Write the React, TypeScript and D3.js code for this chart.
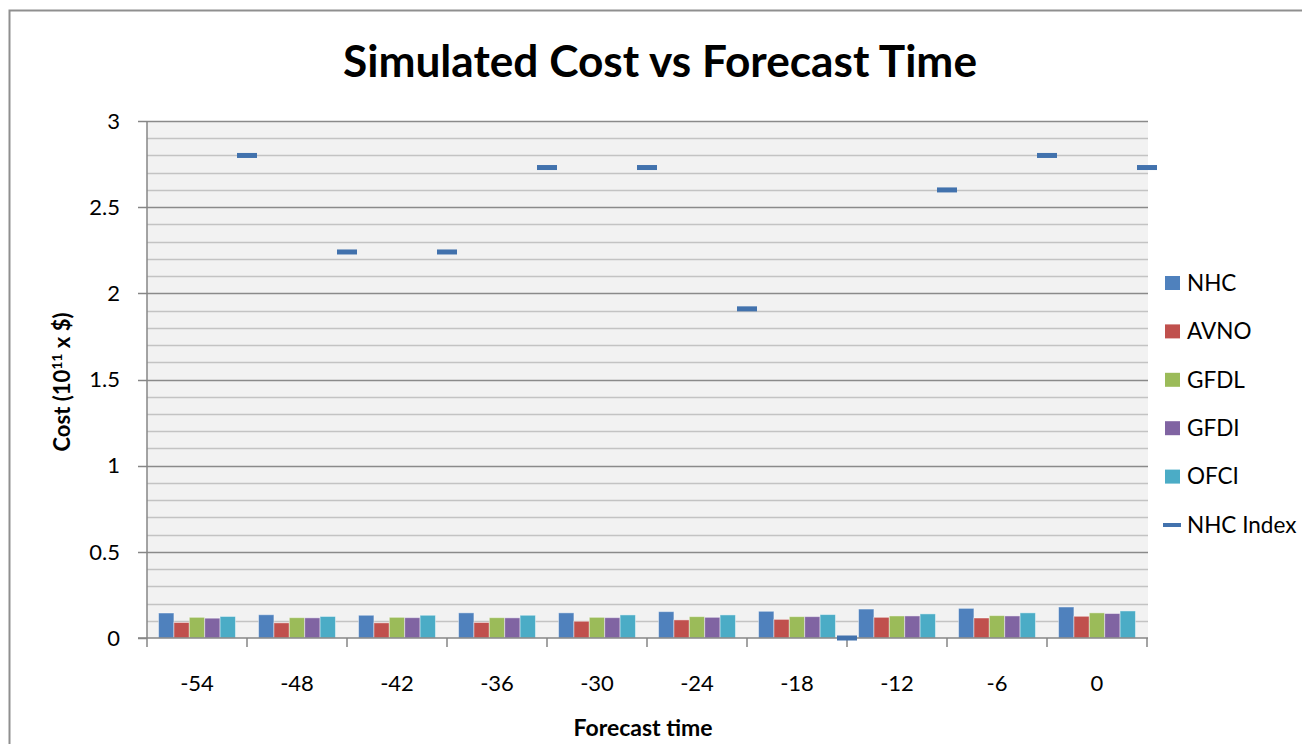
import React from "react";
import * as d3 from "d3";

const categories = ["-54", "-48", "-42", "-36", "-30", "-24", "-18", "-12", "-6", "0"];
const seriesNames = ["NHC", "AVNO", "GFDL", "GFDI", "OFCI"];
const seriesColors = ["#4f81bd", "#c0504d", "#9bbb59", "#8064a2", "#4bacc6"];

const nhc = [0.145, 0.135, 0.132, 0.146, 0.146, 0.153, 0.155, 0.168, 0.172, 0.18];
const avno = [0.09, 0.088, 0.088, 0.09, 0.097, 0.105, 0.108, 0.12, 0.116, 0.126];
const gfdl = [0.12, 0.118, 0.12, 0.118, 0.12, 0.124, 0.124, 0.128, 0.13, 0.146];
const gfdi = [0.115, 0.117, 0.118, 0.117, 0.118, 0.12, 0.124, 0.128, 0.128, 0.142];
const ofci = [0.125, 0.125, 0.132, 0.132, 0.134, 0.134, 0.136, 0.14, 0.146, 0.157];
const nhcIndex = [2.8, 2.24, 2.24, 2.73, 2.73, 1.91, 0.0, 2.6, 2.8, 2.73];

const yTicks = [0, 0.5, 1, 1.5, 2, 2.5, 3];
const yTickLabels = ["0", "0.5", "1", "1.5", "2", "2.5", "3"];

const seriesValues = [nhc, avno, gfdl, gfdi, ofci];

export default function App() {
  const W = 1302, H = 744;
  const left = 147, right = 1147, top = 121, bottom = 638;
  const font = "Lato, 'Open Sans', sans-serif";

  const x = d3.scaleBand<string>().domain(categories).range([left, right]).paddingInner(0).paddingOuter(0);
  const xInner = d3.scaleBand<string>().domain(seriesNames).range([0, x.bandwidth()]).paddingInner(0).paddingOuter(0.75);
  const y = d3.scaleLinear().domain([0, 3]).range([bottom, top]);
  const xIdx = d3.scaleLinear().domain([0, categories.length]).range([left, right]);

  const minor = d3.range(1, 31).map((d) => d / 10).filter((d) => Math.round(d * 10) % 5 !== 0);
  const major = yTicks.filter((d) => d > 0);

  const legendItems = [...seriesNames, "NHC Index"];

  return (
    <svg width={W} height={H} style={{ position: "absolute", left: 0, top: 0, background: "#fff" }} fontFamily={font}>
      <rect x={9.5} y={10.5} width={1400} height={900} fill="#fff" stroke="#8f8f8f" strokeWidth={2} />
      <text x={660} y={77} textAnchor="middle" fontWeight="bold" fontSize={43} textLength={634} lengthAdjust="spacingAndGlyphs" fill="#000">
        Simulated Cost vs Forecast Time
      </text>

      <rect x={left} y={top} width={right - left + 1} height={bottom - top} fill="#f2f2f2" />
      {minor.map((d) => (
        <line key={"mn" + d} x1={left} x2={right + 1} y1={Math.round(y(d)) + 0.5} y2={Math.round(y(d)) + 0.5} stroke="#c3c3c3" strokeWidth={1.5} />
      ))}
      {major.map((d) => (
        <line key={"mj" + d} x1={left} x2={right + 1} y1={Math.round(y(d)) + 0.5} y2={Math.round(y(d)) + 0.5} stroke="#8a8a8a" strokeWidth={1.5} />
      ))}

      {categories.map((c, i) => (
        <g key={"c" + c}>
          {seriesNames.map((s, j) => {
            const v = seriesValues[j][i];
            return (
              <rect
                key={s}
                x={(x(c) as number) + (xInner(s) as number)}
                y={y(v)}
                width={xInner.bandwidth()}
                height={y(0) - y(v)}
                fill={seriesColors[j]}
                stroke="rgba(255,255,255,0.45)"
                strokeWidth={1}
              />
            );
          })}
        </g>
      ))}

      {/* axes */}
      <line x1={left} x2={left} y1={top} y2={bottom} stroke="#868686" strokeWidth={1.5} />
      <line x1={left - 9} x2={right + 1} y1={bottom} y2={bottom} stroke="#868686" strokeWidth={1.5} />
      {yTicks.map((t, i) => (
        <g key={"yt" + t}>
          <line x1={left - 9} x2={left} y1={Math.round(y(t)) + 0.5} y2={Math.round(y(t)) + 0.5} stroke="#868686" strokeWidth={1.5} />
          <text x={120} y={y(t)} dy="0.35em" textAnchor="end" fontSize={22} fill="#000">
            {yTickLabels[i]}
          </text>
        </g>
      ))}
      {d3.range(categories.length + 1).map((i) => (
        <line key={"xt" + i} x1={xIdx(i)} x2={xIdx(i)} y1={bottom} y2={bottom + 9} stroke="#868686" strokeWidth={1.5} />
      ))}
      {categories.map((c) => (
        <text key={"xl" + c} x={(x(c) as number) + x.bandwidth() / 2} y={683} dy="0.35em" textAnchor="middle" fontSize={22} fill="#000">
          {c}
        </text>
      ))}

      {/* NHC Index markers */}
      {nhcIndex.map((v, i) => (
        <rect key={"m" + i} x={xIdx(i + 1) - 10} y={y(v) - 2.5} width={20} height={5} fill="#4272ad" />
      ))}

      <text x={643} y={728} dy="0.35em" textAnchor="middle" fontWeight="bold" fontSize={23} fill="#000">
        Forecast time
      </text>
      <text transform={`translate(62,382) rotate(-90)`} textAnchor="middle" dy="0.35em" fontWeight="bold" fontSize={22} fill="#000">
        Cost (10<tspan dy="-8" fontSize={14}>11</tspan><tspan dy="8"> x $)</tspan>
      </text>

      {legendItems.map((name, i) => {
        const cy = 283 + i * 48.4;
        return (
          <g key={"lg" + name}>
            {i < 5 ? (
              <rect x={1165} y={cy - 7} width={15} height={14} fill={seriesColors[i]} />
            ) : (
              <rect x={1163} y={cy - 2} width={18} height={4} fill="#4272ad" />
            )}
            <text x={1187} y={cy} dy="0.35em" fontSize={22.5} fill="#000">
              {name}
            </text>
          </g>
        );
      })}
    </svg>
  );
}
